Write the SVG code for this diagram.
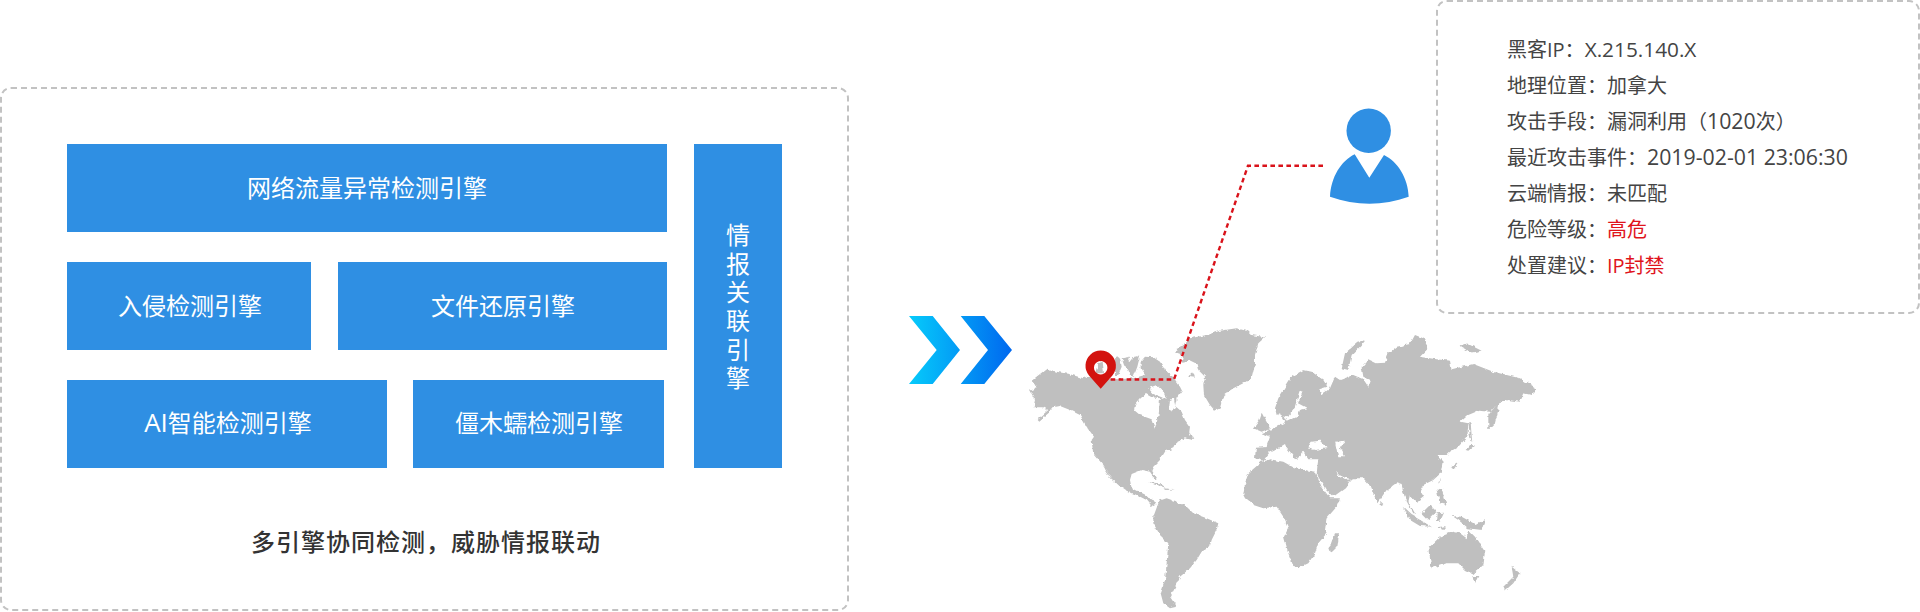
<svg xmlns="http://www.w3.org/2000/svg" width="1920" height="612" viewBox="0 0 1920 612">
<style>
text{font-family:"Open Sans","Noto Sans CJK SC",sans-serif}
.panel{fill:#fff;stroke:#c2c2c2;stroke-width:2;stroke-dasharray:6 4}
.box{fill:#2f8fe3}
.lbl{fill:#fff;font-size:24px;text-anchor:middle}
.info{fill:#444;font-size:20px}
.num{font-size:21.3px}
.red{fill:#e0141c}
.map{fill:#bfbfbf;fill-rule:evenodd}
.link{fill:none;stroke:#d9121a;stroke-width:2.4;stroke-dasharray:4.6 3.4}
</style>
<defs>
<linearGradient id="g1" gradientUnits="userSpaceOnUse" x1="909" y1="0" x2="1012" y2="0"><stop offset="0" stop-color="#06cbfb"/><stop offset="1" stop-color="#0068ef"/></linearGradient>
<filter id="coast" filterUnits="userSpaceOnUse" x="1020" y="320" width="560" height="292" color-interpolation-filters="sRGB">
<feTurbulence type="fractalNoise" baseFrequency=".22" numOctaves="2" seed="4" result="n"/>
<feDisplacementMap in="SourceGraphic" in2="n" scale="4" xChannelSelector="R" yChannelSelector="G"/>
</filter>
</defs>
<g id="engines-panel">
<rect class="panel" x="1" y="88" width="847" height="522" rx="10"/>
<text x="426" y="551" font-size="24" font-weight="500" fill="#333" text-anchor="middle" letter-spacing="1">多引擎协同检测，威胁情报联动</text>
</g>
<g id="engine-network"><rect class="box" x="67" y="144" width="600" height="88"/><text class="lbl" x="367" y="197">网络流量异常检测引擎</text></g>
<g id="engine-intrusion"><rect class="box" x="67" y="262" width="244" height="88"/><text class="lbl" x="190" y="315">入侵检测引擎</text></g>
<g id="engine-file"><rect class="box" x="338" y="262" width="329" height="88"/><text class="lbl" x="503" y="315">文件还原引擎</text></g>
<g id="engine-ai"><rect class="box" x="67" y="380" width="320" height="88"/><text class="lbl" x="228" y="432"><tspan font-size="26">AI</tspan>智能检测引擎</text></g>
<g id="engine-botnet"><rect class="box" x="413" y="380" width="251" height="88"/><text class="lbl" x="539" y="432">僵木蠕检测引擎</text></g>
<g id="engine-intel"><rect class="box" x="694" y="144" width="88" height="324"/>
<text class="lbl"><tspan x="738" y="244">情</tspan><tspan x="738" y="272.5">报</tspan><tspan x="738" y="301">关</tspan><tspan x="738" y="330">联</tspan><tspan x="738" y="358.5">引</tspan><tspan x="738" y="387">擎</tspan></text></g>
<g id="flow-arrows">
<polygon fill="url(#g1)" points="909,316 932.7,316 960,350 932.7,384 909,384 936.7,350"/>
<polygon fill="url(#g1)" points="960.7,316 984.3,316 1012,350 984.3,384 960.7,384 988,350"/>
</g>
<g id="world-map" filter="url(#coast)">
<g class="map" transform="translate(1020 320) scale(.3333)">
<path d="M37 180L80 146L110 155L150 163L190 175L200 170L240 172L290 178L340 175L375 165L362 145L362 125L375 110L400 112L420 125L435 150L460 172L480 200L486 212L470 235L465 258L485 275L495 300L510 320L508 335L520 360L495 355L470 365L460 385L435 395L420 420L400 440L395 450L410 475L405 478L390 455L365 450L335 462L330 480L335 505L355 515L385 530L412 548L395 558L380 540L350 525L320 512L295 495L270 470L245 430L220 400L215 360L222 350L200 320L180 285L150 270L120 258L100 262L85 280L55 305L50 300L85 270L70 262L40 262L45 240L30 212L50 205Z
M345 255L362 235L378 222L395 232L420 235L418 262L416 285L412 300L405 328L395 298L360 285L342 270Z
M385 205L410 195L430 215L440 240L425 232L400 222Z
M450 240L462 235L466 262L456 275L448 262Z
M250 445L258 450L282 487L270 475Z"/>
<path d="M285 115L300 112L305 140L295 165L285 165Z"/>
<path d="M305 115L330 110L325 130L345 105L360 108L352 140L340 172L325 155L312 135Z"/>
<path d="M225 160L235 130L248 125L252 160Z"/>
<path d="M462 95L495 72L510 55L560 45L600 32L650 25L690 35L695 45L735 52L715 70L705 105L705 135L695 175L670 190L640 205L610 225L600 265L585 272L570 255L552 225L550 195L555 170L535 150L530 130L510 120L485 125L490 105Z"/>
<path d="M508 168L515 155L525 170Z"/>
<path d="M385 487L420 490L440 505L420 497L395 492Z"/>
<path d="M430 505L465 508L440 510Z"/>
<path d="M400 590L418 542L440 535L470 545L500 560L520 580L560 595L595 610L590 630L575 660L570 680L545 695L530 720L510 745L480 770L465 800L450 830L470 860L450 865L430 850L422 820L435 780L440 730L445 670L420 645L400 610Z"/>
</g>
<g class="map" transform="translate(1220 320) scale(.3333)">
<path d="M70 525L75 490L85 460L125 425L150 418L190 425L225 445L285 455L305 500L330 535L360 535L350 560L320 595L315 630L320 640L295 670L285 700L265 730L240 742L220 738L205 700L192 650L205 625L190 590L170 560L130 565L100 555L75 535Z"/>
<path d="M105 415L108 380L140 378L150 350L125 340L175 318L195 308L180 280L170 285L165 265L175 235L215 170L250 150L275 155L310 180L322 200L298 208L304 226L330 205L345 170L360 180L400 165L430 178L445 200L452 180L430 170L425 140L445 118L470 130L495 128L505 100L530 80L570 72L585 45L610 55L625 85L600 110L650 118L690 122L695 148L760 132L820 155L860 165L900 175L950 205L935 225L910 220L900 245L865 240L838 250L810 275L775 272L745 285L722 305L745 310L742 350L715 380L690 395L680 405L650 405L668 425L662 460L640 480L610 495L600 512L612 530L590 548L570 525L565 545L585 580L580 580L555 535L545 495L528 490L500 510L472 550L452 500L430 475L395 475L375 505L340 530L318 510L290 462L292 440L295 418L265 418L250 395L240 410L225 418L200 385L195 372L185 378L150 395L130 422Z
M222 268L240 212L248 215L234 250L262 265L240 270L232 290L200 305L190 285L205 290Z
M262 385L275 365L300 362L320 385L285 390Z
M345 365L375 362L360 385L375 412L355 412Z
M348 452L365 470L395 478L375 480L358 470Z"/>
<path d="M100 325L118 300L125 278L150 325L125 335Z"/>
<path d="M365 145L375 100L415 65L437 60L425 75L395 105L385 150Z"/>
<path d="M718 78L740 70L785 92L750 98Z"/>
<path d="M805 330L805 285L838 245L835 270L825 310Z"/>
<path d="M745 310L752 310L757 370L750 350Z"/>
<path d="M737 390L750 375L765 375L745 392Z"/>
<path d="M695 440L715 428L700 450Z"/>
<path d="M655 490L660 475L658 490Z"/>
<path d="M650 510L665 505L680 555L660 550Z"/>
<path d="M548 560L575 585L635 620L600 618L570 600Z"/>
<path d="M605 580L630 555L650 575L625 600Z"/>
<path d="M650 580L672 578L660 605L648 605Z"/>
<path d="M650 622L680 618L670 630Z"/>
<path d="M697 588L725 590L770 615L795 600L785 630L745 625L715 600Z"/>
<path d="M480 545L490 555L483 558Z"/>
<path d="M625 685L660 650L700 635L720 640L740 655L745 630L765 650L795 695L790 735L760 762L735 750L715 730L680 730L635 745Z"/>
<path d="M757 768L775 768L765 790Z"/>
<path d="M875 740L900 760L880 790L855 812L850 800L880 770Z"/>
<path d="M325 690L345 640L358 640L352 680L335 697Z"/>
</g>
</g>
<g id="connectors">
<path class="link" d="M1323 165.7H1248L1174 379.5H1110"/>
</g>
<g id="location-pin">
<path fill="#d3130f" fill-rule="evenodd" d="M1100.7 388.7L1089 375.5A15.2 15.2 0 1 1 1112.4 375.5ZM1100.7 361a6.7 6.7 0 1 0 .01 0Z"/>
</g>
<g id="attacker">
<circle cx="1368.7" cy="130.7" r="22.2" fill="#2f8fe3"/>
<path fill="#2f8fe3" d="M1330 196.7C1331 177 1341 161 1354.7 154.3L1369.3 177.7L1384 155C1398 162 1408 178 1408.7 196.7C1383 206 1356 206 1330 196.7Z"/>
</g>
<g id="attacker-info">
<rect class="panel" x="1437" y="1" width="482" height="312" rx="10"/>
<text class="info" x="1507" y="57">黑客IP：<tspan font-size="20.8">X.215.140.X</tspan></text>
<text class="info" x="1507" y="93">地理位置：加拿大</text>
<text class="info" x="1507" y="129">攻击手段：漏洞利用（<tspan class="num">1020</tspan>次）</text>
<text class="info" x="1507" y="165">最近攻击事件：<tspan class="num">2019-02-01 23:06:30</tspan></text>
<text class="info" x="1507" y="201">云端情报：未匹配</text>
<text class="info" x="1507" y="237">危险等级：<tspan class="red">高危</tspan></text>
<text class="info" x="1507" y="273">处置建议：<tspan class="red">IP封禁</tspan></text>
</g>
</svg>
